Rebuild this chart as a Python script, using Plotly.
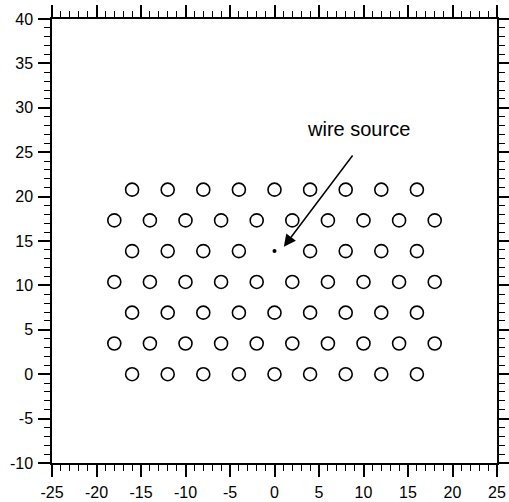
import plotly.graph_objects as go

# Rod positions of the hexagonal array, one list of x values per row
row_y = [0.0, 3.46, 6.93, 10.39, 13.86, 17.32, 20.78]
row_x = [
    [-16, -12, -8, -4, 0, 4, 8, 12, 16],
    [-18, -14, -10, -6, -2, 2, 6, 10, 14, 18],
    [-16, -12, -8, -4, 0, 4, 8, 12, 16],
    [-18, -14, -10, -6, -2, 2, 6, 10, 14, 18],
    [-16, -12, -8, -4, 4, 8, 12, 16],
    [-18, -14, -10, -6, -2, 2, 6, 10, 14, 18],
    [-16, -12, -8, -4, 0, 4, 8, 12, 16],
]

# Axis tick values and their labels (plain hyphen minus sign)
x_ticks = [-25, -20, -15, -10, -5, 0, 5, 10, 15, 20, 25]
x_labels = ["-25", "-20", "-15", "-10", "-5", "0", "5", "10", "15", "20", "25"]
y_ticks = [-10, -5, 0, 5, 10, 15, 20, 25, 30, 35, 40]
y_labels = ["-10", "-5", "0", "5", "10", "15", "20", "25", "30", "35", "40"]

# Line source location and its label / arrow geometry
source_x, source_y = 0.0, 13.86
label_text = "wire source"
label_pos = (9.4, 27.6)
arrow_tail = (8.9, 24.8)
arrow_tip = (1.05, 14.36)

xs, ys = [], []
for y, row in zip(row_y, row_x):
    for x in row:
        xs.append(x)
        ys.append(y)

FONT = "Liberation Sans, Arial, Helvetica, sans-serif"

fig = go.Figure()
fig.add_trace(go.Scatter(
    x=xs, y=ys, mode="markers",
    marker=dict(symbol="circle-open", size=13, color="black",
                line=dict(width=1.6, color="black")),
    hoverinfo="skip", showlegend=False,
))
fig.add_trace(go.Scatter(
    x=[source_x], y=[source_y], mode="markers",
    marker=dict(symbol="circle", size=4, color="black"),
    hoverinfo="skip", showlegend=False,
))

fig.add_annotation(
    x=arrow_tip[0], y=arrow_tip[1], ax=arrow_tail[0], ay=arrow_tail[1],
    xref="x", yref="y", axref="x", ayref="y",
    text="", showarrow=True, arrowhead=2, arrowsize=1.6, arrowwidth=1.5,
    arrowcolor="black",
)
fig.add_annotation(
    x=label_pos[0], y=label_pos[1], xref="x", yref="y",
    text=label_text, showarrow=False,
    font=dict(family=FONT, size=20, color="black"),
)

axis_common = dict(
    showgrid=False, zeroline=False, automargin=False,
    showline=True, linecolor="black", linewidth=1.5,
    mirror="allticks", ticks="outside", ticklen=12, tickwidth=1.8,
    tickcolor="black",
    tickfont=dict(family=FONT, size=16, color="black"),
    minor=dict(dtick=1, ticks="outside", ticklen=6, tickwidth=1, tickcolor="black"),
)

fig.update_xaxes(range=[-25, 25], tickvals=x_ticks, ticktext=x_labels,
                 ticklabelstandoff=2, **axis_common)
fig.update_yaxes(range=[-10, 40], tickvals=y_ticks, ticktext=y_labels,
                 ticklabelstandoff=2, **axis_common)

fig.update_layout(
    width=509, height=502,
    margin=dict(l=52, r=12, t=19, b=39),
    plot_bgcolor="white", paper_bgcolor="white",
)

fig.write_html("out.html")
